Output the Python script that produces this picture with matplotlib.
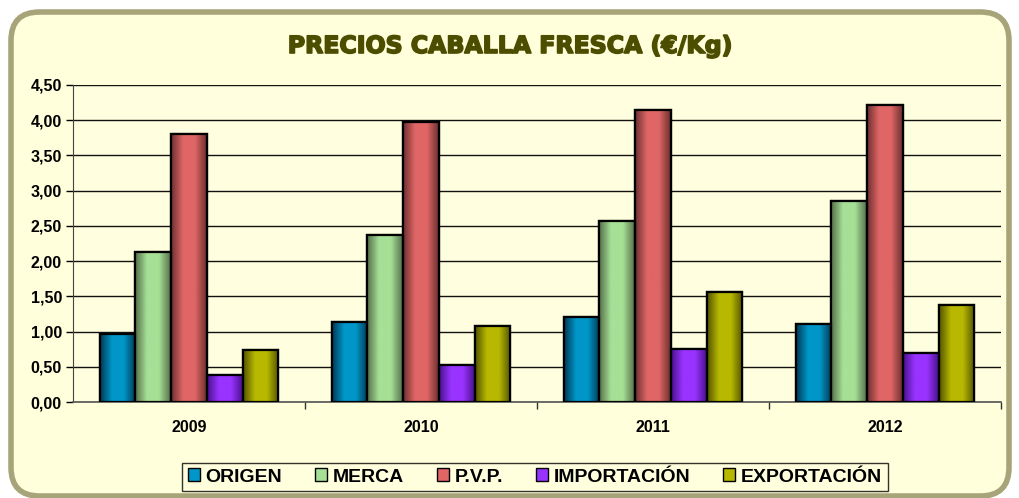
import matplotlib
matplotlib.use("Agg")
import matplotlib.pyplot as plt
import numpy as np
from matplotlib.patches import FancyBboxPatch, Rectangle, Patch
from matplotlib.colors import LinearSegmentedColormap
import matplotlib.patheffects as pe

years = ["2009", "2010", "2011", "2012"]
series = ["ORIGEN", "MERCA", "P.V.P.", "IMPORTACIÓN", "EXPORTACIÓN"]
origen = [0.97, 1.14, 1.21, 1.11]
merca = [2.13, 2.37, 2.57, 2.85]
pvp = [3.80, 3.98, 4.15, 4.22]
importacion = [0.39, 0.53, 0.75, 0.70]
exportacion = [0.74, 1.08, 1.56, 1.38]
yticks = [0.0, 0.5, 1.0, 1.5, 2.0, 2.5, 3.0, 3.5, 4.0, 4.5]
ytick_labels = ["0,00", "0,50", "1,00", "1,50", "2,00", "2,50", "3,00", "3,50", "4,00", "4,50"]

values = [origen, merca, pvp, importacion, exportacion]
centers = ["#0096C8", "#A6E096", "#E06666", "#9933FF", "#B8B800"]
edges_c = ["#003A55", "#55704A", "#6E3030", "#4A1290", "#555500"]

W, H = 1020, 498
fig = plt.figure(figsize=(W / 100, H / 100), dpi=100)
fig.patch.set_facecolor("white")

# rounded background panel
panel = FancyBboxPatch((11 / W, 2 / H), (W - 22) / W, (H - 14) / H,
                       boxstyle="round,pad=0,rounding_size=0.028",
                       transform=fig.transFigure, facecolor="#FFFFDB",
                       edgecolor="#A8A47A", linewidth=4, zorder=-5,
                       mutation_aspect=W / H)
fig.patches.append(panel)

fig.text(0.5, (H - 46) / H, "PRECIOS CABALLA FRESCA (€/Kg)", ha="center", va="center",
         fontsize=17, fontweight="bold", color="#4D4D00", family="DejaVu Sans",
         path_effects=[pe.withStroke(linewidth=1.2, foreground="#4D4D00")])

ax = fig.add_axes([73 / W, (H - 402) / H, (1001 - 73) / W, (402 - 85) / H])
ax.set_zorder(2)
ax.set_facecolor("#FFFFE0")

n = len(series)
group = 0.77
bw = group / n
x = np.arange(len(years))

for i, (vals, c, ec) in enumerate(zip(values, centers, edges_c)):
    pos = x - group / 2 + bw * (i + 0.5)
    bars = ax.bar(pos, vals, width=bw, color=c, edgecolor="black", linewidth=1.6,
                  label=series[i], zorder=3)
    cmap = LinearSegmentedColormap.from_list("g%d" % i, [ec, c, c, ec])
    grad = np.linspace(0, 1, 64).reshape(1, -1)
    for b in bars:
        x0, w_, h_ = b.get_x(), b.get_width(), b.get_height()
        im = ax.imshow(grad, cmap=cmap, aspect="auto", extent=(x0, x0 + w_, 0, h_),
                       zorder=3.1, interpolation="bicubic")
        im.set_clip_path(b)
        ax.add_patch(Rectangle((x0, 0), w_, h_, fill=False, edgecolor="black",
                               linewidth=1.6, zorder=3.2))
ax.set_xlim(-0.5, 3.5)
ax.set_ylim(0, 4.5)

ax.set_yticks(yticks)
ax.set_yticklabels(ytick_labels)
ax.yaxis.grid(True, color="#111111", linewidth=1.0, zorder=1)
ax.set_axisbelow(True)
ax.set_xticks(x)
ax.set_xticklabels(years)
ax.set_xticks([0.5, 1.5, 2.5, 3.5], minor=True)
ax.tick_params(axis="x", which="major", length=0, pad=13)
ax.tick_params(axis="x", which="minor", length=5, width=1, color="#333333")
ax.tick_params(axis="y", length=5, width=1, pad=3)
for lab in ax.get_xticklabels() + ax.get_yticklabels():
    lab.set_fontsize(11.5)
    lab.set_fontweight("bold")
    lab.set_family("Liberation Sans")
for s in ["top", "right"]:
    ax.spines[s].set_visible(False)
ax.spines["left"].set_color("#444444")
ax.spines["bottom"].set_color("#555555")
ax.spines["bottom"].set_linewidth(1.2)

handles = [Patch(facecolor=c, edgecolor="black", linewidth=1.0) for c in centers]
leg = fig.legend(handles, series, loc="center", bbox_to_anchor=(535 / W, (H - 477) / H),
                 ncol=5, frameon=True, fancybox=False, edgecolor="black",
                 facecolor="#FFFFE0", handlelength=0.6, handleheight=0.6,
                 handletextpad=0.3, columnspacing=1.7, borderpad=0.3,
                 prop={"family": "Liberation Sans", "weight": "bold", "size": 14})
leg.get_frame().set_linewidth(1.0)

fig.savefig("out.png", dpi=100, facecolor="white")
